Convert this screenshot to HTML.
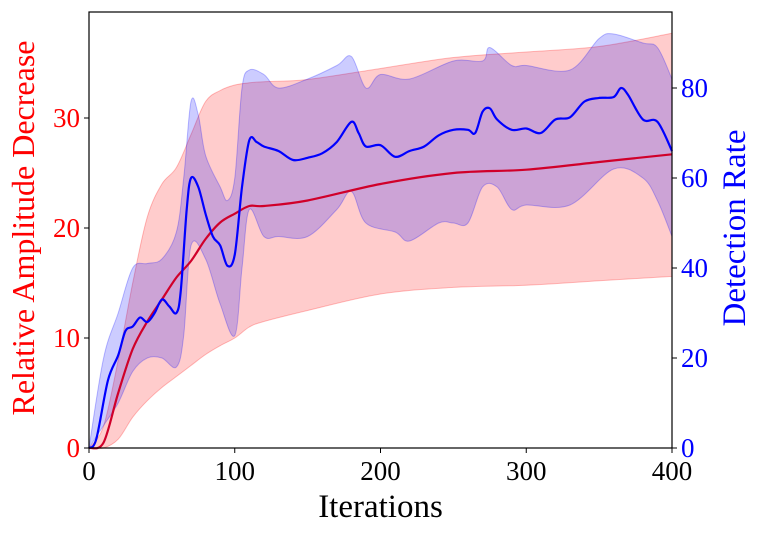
<!DOCTYPE html>
<html><head><meta charset="utf-8"><style>
html,body{margin:0;padding:0;background:#fff;}
svg{display:block;font-family:"Liberation Serif","DejaVu Serif",serif;}
</style></head><body>
<svg id="chart" width="762" height="535" viewBox="0 0 762 535"></svg>
<script>
const redX=[0,10,20,30,40,50,60,70,80,90,100,110,120,150,200,250,300,350,400];
const redMean=[0,0.5,5,9,11.5,13.5,15.5,17,19,20.5,21.3,22,22,22.5,24,25,25.3,26,26.7];
const redLow=[0,0,0.8,2.8,4.3,5.5,6.5,7.5,8.5,9.3,10,11,11.5,12.5,14,14.6,14.8,15.2,15.6];
const redHigh=[0,2,8,15,21,24,25.5,28.5,31.5,32.5,33,33.2,33.3,33.5,34.5,35.5,36,36.5,37.7];
const blueX=[0,5,13,20,25,30,35,40,45,50,55,60,63,67,70,75,80,85,90,95,100,105,110,115,120,130,140,150,160,170,180,185,190,200,210,220,230,240,250,260,265,270,275,280,290,300,310,320,330,340,350,360,365,370,380,390,400];
const blueMean=[0,2,15,20.6,26,27,29,28,30,33,31.5,30,35,53,60,58,52,47,45,40.5,43,58,68.4,68,67,66,64,64.5,65.5,68,72.5,70,67,67.3,64.7,66,67,69.5,70.7,70.7,70,74.7,75.5,73,70.7,71,70,73,73.5,77,77.8,78,80,78.4,73,72.5,66];
const blueUpX=[0,10,20,30,40,50,60,65,70,75,80,90,95,100,105,110,120,130,150,170,180,190,200,220,250,270,275,290,300,330,350,360,380,390,400];
const blueUp=[0,20,30,40,41,42,48,60,77,74,65,58,55,60,80,84,83,80,82,85,87,80,83,82,86,86,89,85,85,84,91,92,90,89,82];
const blueLowX=[0,10,20,30,40,50,60,65,70,80,90,100,105,110,120,130,150,170,180,190,210,220,240,250,260,270,280,290,300,330,360,380,390,400];
const blueLow=[0,5,10,17,20,20,18,25,45,42,32,25,40,53,47,47,47,53,57,50,48,46,50,50,50,58,58,53,54,54,62,60,55,47];
const xTicks=[0,100,200,300,400];
const yLTicks=[0,10,20,30];
const yRTicks=[0,20,40,60,80];

const L=89,R=672,T=12,B=448;
const sx=v=>L+(v)*(R-L)/400;
const syL=v=>B-v*11;
const syR=v=>B-v*4.5;
const svg=document.getElementById('chart');
const NS='http://www.w3.org/2000/svg';
function mk(t,a){const e=document.createElementNS(NS,t);for(const k in a)e.setAttribute(k,a[k]);svg.appendChild(e);return e;}
function P(xs,ys,fy){return xs.map((x,i)=>[sx(x),fy(ys[i])]);}
function smooth(p,move){
  let d=(move?'M':'L')+p[0][0].toFixed(1)+','+p[0][1].toFixed(1);
  for(let i=0;i<p.length-1;i++){
    const p0=p[Math.max(0,i-1)],p1=p[i],p2=p[i+1],p3=p[Math.min(p.length-1,i+2)];
    const c1=[p1[0]+(p2[0]-p0[0])/6,p1[1]+(p2[1]-p0[1])/6];
    const c2=[p2[0]-(p3[0]-p1[0])/6,p2[1]-(p3[1]-p1[1])/6];
    d+='C'+c1.map(v=>v.toFixed(1)).join(',')+' '+c2.map(v=>v.toFixed(1)).join(',')+' '+p2.map(v=>v.toFixed(1)).join(',');
  }
  return d;
}
function band(xu,yu,xl,yl,fy){return smooth(P(xu,yu,fy),true)+smooth(P(xl,yl,fy).reverse(),false)+'Z';}

let e=mk('path',{d:band(redX,redHigh,redX,redLow,syL),fill:'rgba(255,0,0,0.2)',stroke:'rgba(255,0,0,0.25)'});


e=mk('path',{d:band(blueUpX,blueUp,blueLowX,blueLow,syR),fill:'rgba(0,0,255,0.2)',stroke:'rgba(0,0,255,0.25)'});


e=mk('path',{d:smooth(P(redX,redMean,syL),true),fill:'none',stroke:'#d0002a','stroke-width':2.2});


e=mk('path',{d:smooth(P(blueX,blueMean,syR),true),fill:'none',stroke:'#0000ff','stroke-width':2.2,'stroke-linejoin':'round'});


e=mk('rect',{x:L,y:T,width:R-L,height:B-T,fill:'none',stroke:'#000','stroke-width':1.2});



xTicks.forEach(v=>{
  let t=mk('line',{x1:sx(v),x2:sx(v),y1:B,y2:B+5,stroke:'#000'});
  
  
  let l=mk('text',{x:sx(v),y:B+32,'text-anchor':'middle','font-size':27,fill:'#000'});l.textContent=v;
  
  
});
yLTicks.forEach(v=>{
  let t=mk('line',{x1:L-5,x2:L,y1:syL(v),y2:syL(v),stroke:'#000'});
  
  
  let l=mk('text',{x:L-9,y:syL(v)+9,'text-anchor':'end','font-size':27,fill:'#ff0000'});l.textContent=v;
  
  
});
yRTicks.forEach(v=>{
  let t=mk('line',{x1:R,x2:R+5,y1:syR(v),y2:syR(v),stroke:'#000'});
  
  
  let l=mk('text',{x:R+9,y:syR(v)+9,'text-anchor':'start','font-size':27,fill:'#0000ff'});l.textContent=v;
  
  
});
e=mk('text',{x:(L+R)/2,y:517,'text-anchor':'middle','font-size':33,fill:'#000'});e.textContent='Iterations';


e=mk('text',{x:0,y:0,'text-anchor':'middle','font-size':32,fill:'#ff0000',transform:'translate(34,228) rotate(-90)'});e.textContent='Relative Amplitude Decrease';


e=mk('text',{x:0,y:0,'text-anchor':'middle','font-size':33,fill:'#0000ff',transform:'translate(745,228) rotate(-90)'});e.textContent='Detection Rate';


</script>
</body></html>
